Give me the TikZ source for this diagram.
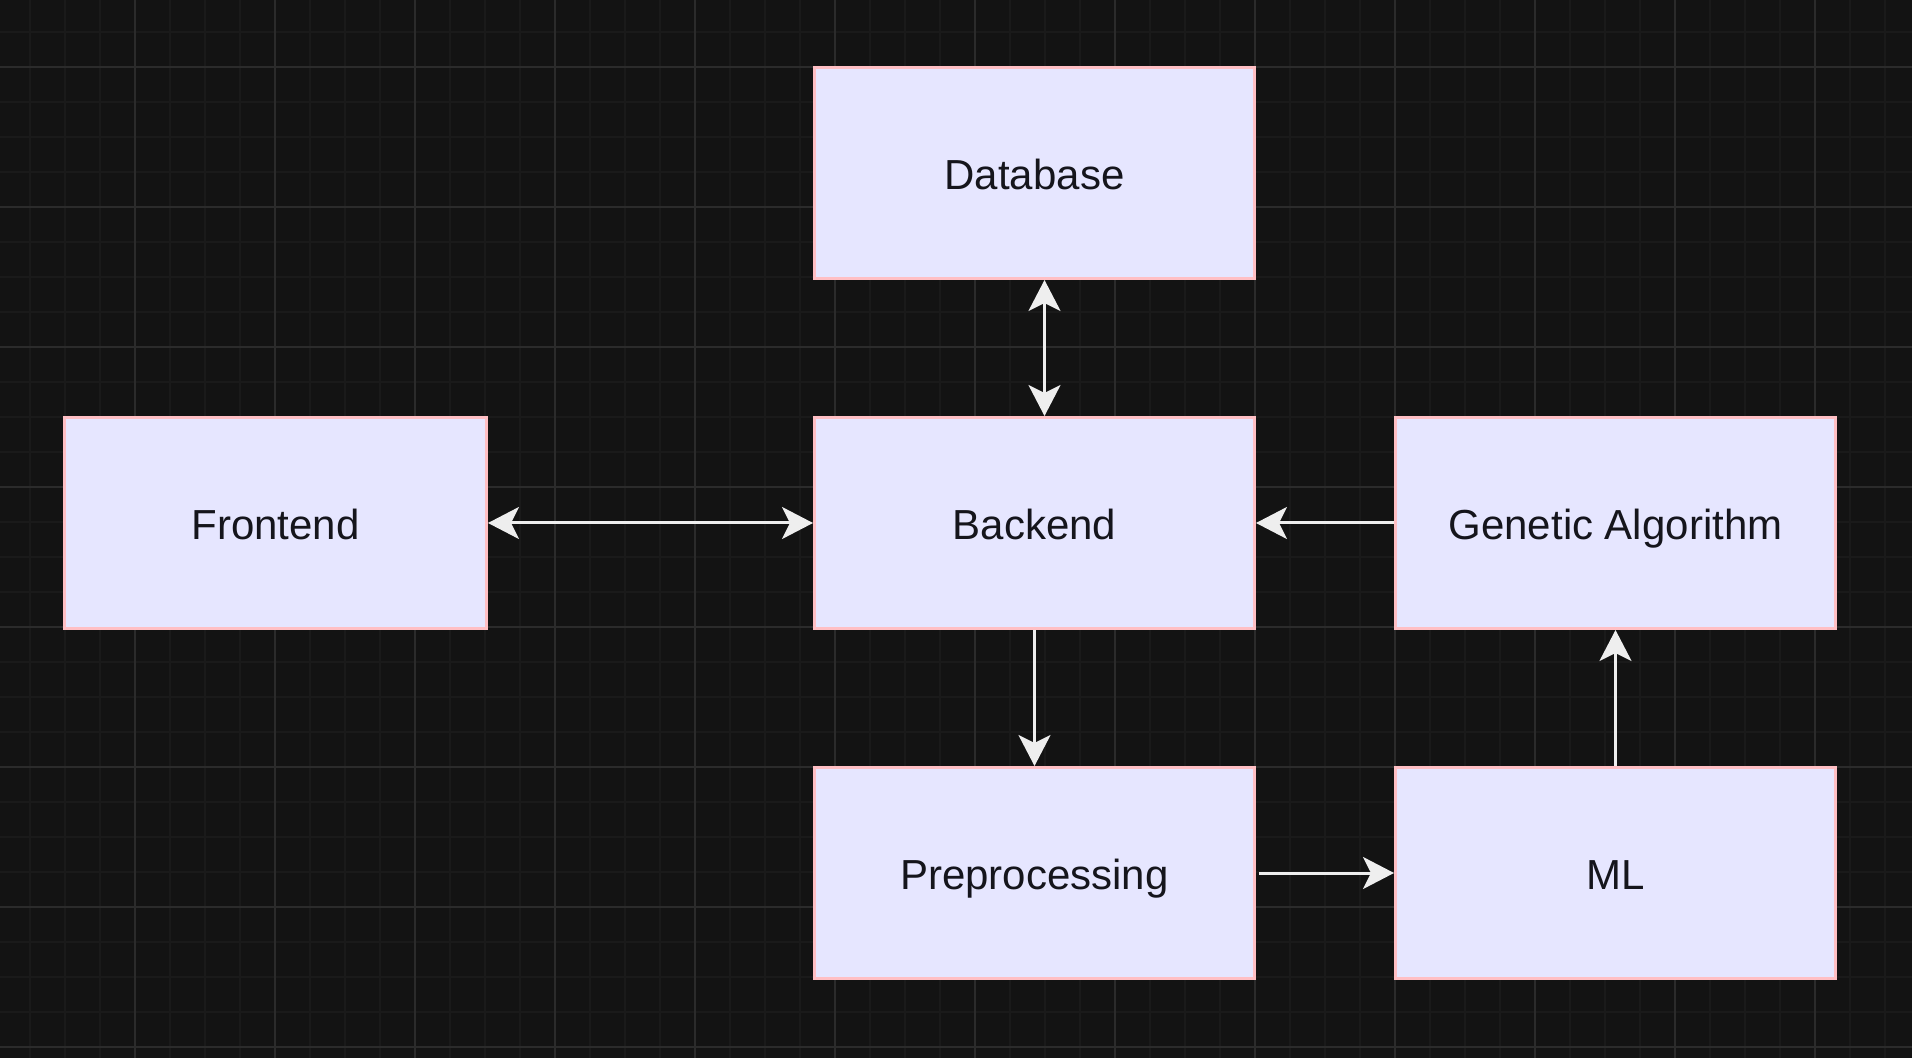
\documentclass[tikz,border=0pt]{standalone}
\usepackage{fontspec}
\setmainfont{Liberation Sans}
\usetikzlibrary{arrows.meta}
\definecolor{bgc}{HTML}{131313}
\definecolor{minorc}{HTML}{1A1A1A}
\definecolor{majorc}{HTML}{2B2B2B}
\definecolor{boxfill}{HTML}{E6E6FF}
\definecolor{boxline}{HTML}{FFBFC4}
\definecolor{txtc}{HTML}{15151C}
\definecolor{arrc}{HTML}{EEEEEE}
\tikzset{
  blockbox/.style={draw=boxline, line width=1.5pt, fill=boxfill, minimum width=220pt, minimum height=105.5pt, inner sep=0pt, text height=16.4pt, text depth=0pt, font=\fontsize{21pt}{25pt}\selectfont, text=txtc, anchor=north west},
  conn/.style={draw=arrc, line width=1.5pt, -{Stealth[length=15.5pt, width=16pt, inset=4pt]}},
  biconn/.style={draw=arrc, line width=1.5pt, {Stealth[length=15.5pt, width=16pt, inset=4pt]}-{Stealth[length=15.5pt, width=16pt, inset=4pt]}}
}
\begin{document}
\begin{tikzpicture}[x=0.5pt, y=-0.5pt]
\useasboundingbox (0,0) rectangle (1912,1058);
\fill[bgc] (0,0) rectangle (1912,1058);
% minor grid
\foreach \gx in {30,65,...,1912} {\draw[minorc, line width=0.75pt] (\gx,0) -- (\gx,1058);}
\foreach \gy in {32,67,...,1058} {\draw[minorc, line width=0.75pt] (0,\gy) -- (1912,\gy);}
% major grid
\foreach \gx in {135,275,...,1912} {\draw[majorc, line width=0.9pt] (\gx,0) -- (\gx,1058);}
\foreach \gy in {67,207,...,1058} {\draw[majorc, line width=0.9pt] (0,\gy) -- (1912,\gy);}
% boxes
\node[blockbox] (db) at (813,66) {Database};
\node[blockbox, minimum width=211pt] (fe) at (63,416) {Frontend};
\node[blockbox] (be) at (813,416) {Backend};
\node[blockbox] (ga) at (1394,416) {Genetic Algorithm};
\node[blockbox] (pp) at (813,766) {Preprocessing};
\node[blockbox] (ml) at (1394,766) {ML};
% connectors
\draw[biconn] ([xshift=5pt]db.south) -- ([xshift=5pt]be.north);
\draw[biconn] (fe.east) -- (be.west);
\draw[conn] (ga.west) -- (be.east);
\draw[conn] (be.south) -- (pp.north);
\draw[conn] ([xshift=1.5pt]pp.east) -- (ml.west);
\draw[conn] (ml.north) -- (ga.south);
\end{tikzpicture}
\end{document}
